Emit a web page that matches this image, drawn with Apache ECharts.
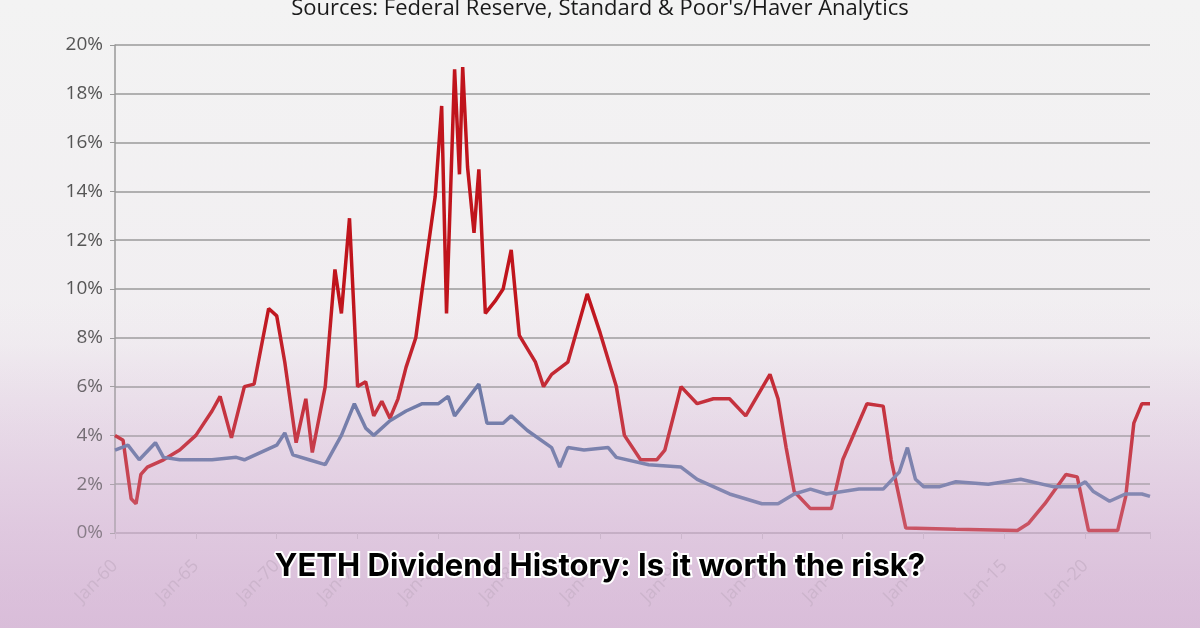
<!DOCTYPE html>
<html lang="en">
  <head>
    <meta charset="UTF-8" />
    <title>Fed Funds vs Dividend Yield</title>
    <script src="https://cdn.jsdelivr.net/npm/echarts@6.0.0/dist/echarts.min.js"></script>
    <style>body{margin:0}</style>
  </head>
  <body>
    <div id="main" style="width: 1200px; height: 628px"></div>
    <script type="text/javascript">
      // [year, percent]
      const fedFunds = [
        [1960, 4.0], [1960.5, 3.8], [1961, 1.4], [1961.3, 1.2], [1961.6, 2.4], [1962, 2.7],
        [1963, 3.0], [1964, 3.4], [1965, 4.0], [1966, 5.0], [1966.5, 5.6], [1967.2, 3.9],
        [1968, 6.0], [1968.6, 6.1], [1969.5, 9.2], [1970, 8.9], [1970.5, 7.0], [1971.2, 3.7],
        [1971.8, 5.5], [1972.2, 3.3], [1973, 6.0], [1973.6, 10.8], [1974, 9.0], [1974.5, 12.9],
        [1975, 6.0], [1975.5, 6.2], [1976, 4.8], [1976.5, 5.4], [1977, 4.7], [1977.5, 5.5],
        [1978, 6.8], [1978.6, 8.0], [1979, 10.0], [1979.8, 13.8], [1980.2, 17.5], [1980.5, 9.0],
        [1981, 19.0], [1981.3, 14.7], [1981.5, 19.1], [1981.8, 15.0], [1982.2, 12.3], [1982.5, 14.9],
        [1982.9, 9.0], [1983.5, 9.5], [1984, 10.0], [1984.5, 11.6], [1985, 8.1], [1986, 7.0],
        [1986.5, 6.0], [1987, 6.5], [1988, 7.0], [1989.2, 9.8], [1990, 8.2], [1991, 6.0],
        [1991.5, 4.0], [1992.5, 3.0], [1993.5, 3.0], [1994, 3.4], [1995, 6.0], [1996, 5.3],
        [1997, 5.5], [1998, 5.5], [1999, 4.8], [2000.5, 6.5], [2001, 5.5], [2001.5, 3.5],
        [2002, 1.7], [2003, 1.0], [2004.3, 1.0], [2005, 3.0], [2006.5, 5.3], [2007.5, 5.2],
        [2008, 3.0], [2008.9, 0.2], [2012, 0.15], [2015.8, 0.1], [2016.5, 0.4], [2017.5, 1.2],
        [2018.8, 2.4], [2019.5, 2.3], [2020.2, 0.1], [2022, 0.1], [2022.5, 1.5], [2023, 4.5],
        [2023.5, 5.3], [2024, 5.3]
      ];
      const divYield = [
        [1960, 3.4], [1960.8, 3.6], [1961.5, 3.0], [1962.5, 3.7], [1963, 3.1], [1964, 3.0],
        [1966, 3.0], [1967.5, 3.1], [1968, 3.0], [1970, 3.6], [1970.5, 4.1], [1971, 3.2],
        [1972, 3.0], [1973, 2.8], [1974, 4.0], [1974.8, 5.3], [1975.5, 4.3], [1976, 4.0],
        [1977, 4.6], [1978, 5.0], [1979, 5.3], [1980, 5.3], [1980.6, 5.6], [1981, 4.8],
        [1982.5, 6.1], [1983, 4.5], [1984, 4.5], [1984.5, 4.8], [1985.5, 4.2], [1987, 3.5],
        [1987.5, 2.7], [1988, 3.5], [1989, 3.4], [1990.5, 3.5], [1991, 3.1], [1993, 2.8],
        [1995, 2.7], [1996, 2.2], [1998, 1.6], [2000, 1.2], [2001, 1.2], [2002, 1.6],
        [2003, 1.8], [2004, 1.6], [2006, 1.8], [2007.5, 1.8], [2008.5, 2.5], [2009, 3.5],
        [2009.5, 2.2], [2010, 1.9], [2011, 1.9], [2012, 2.1], [2014, 2.0], [2016, 2.2],
        [2018, 1.9], [2019.5, 1.9], [2020, 2.1], [2020.5, 1.7], [2021.5, 1.3], [2022.5, 1.6],
        [2023.5, 1.6], [2024, 1.5]
      ];
      const yTicks = [0, 2, 4, 6, 8, 10, 12, 14, 16, 18, 20];

      let myChart = echarts.init(document.getElementById("main"));
      let options = {
        backgroundColor: {
          type: "linear", x: 0, y: 0, x2: 0, y2: 1,
          colorStops: [
            { offset: 0, color: "#f3f3f3" },
            { offset: 0.55, color: "#f1eef1" },
            { offset: 1, color: "#dcc2dc" },
          ],
        },
        title: {
          text: "Sources: Federal Reserve, Standard & Poor's/Haver Analytics",
          left: "center", top: -7,
          textStyle: { fontFamily: "Open Sans", fontSize: 22, fontWeight: "normal", color: "#1a1a1a" },
        },
        grid: { left: 115, right: 50, top: 45, bottom: 95 },
        xAxis: {
          type: "value", min: 1960, max: 2024, interval: 5,
          axisLine: { lineStyle: { color: "#b9a8b9", width: 2 } },
          axisTick: { show: true, length: 6, lineStyle: { color: "#c5b5c5" } },
          splitLine: { show: false },
          axisLabel: {
            rotate: 45, margin: 30, fontSize: 18, fontFamily: "Open Sans", color: "#c2b0c2",
            formatter: (v) => (v > 2021 ? "" : "Jan-" + String(v).slice(2)),
          },
        },
        yAxis: {
          type: "value", min: 0, max: 20, interval: 2,
          axisLine: { show: true, lineStyle: { color: "#999", width: 1.5 } },
          splitLine: { lineStyle: { color: "#9a9a9a", width: 1.5 } },
          axisLabel: {
            fontSize: 19, fontFamily: "Open Sans", color: "#555", margin: 12,
            formatter: (v) => (yTicks.includes(v) ? v + "%" : ""),
          },
        },
        series: [
          {
            name: "Fed Funds", type: "line", data: fedFunds, symbol: "none",
            lineStyle: { color: "#c0141c", width: 3.5 },
          },
          {
            name: "Dividend Yield", type: "line", data: divYield, symbol: "none",
            lineStyle: { color: "#5b6e9e", width: 3.5 },
          },
        ],
        graphic: [
          {
            type: "rect", z: 50, silent: true,
            shape: { x: 0, y: 300, width: 1200, height: 328 },
            style: {
              fill: {
                type: "linear", x: 0, y: 0, x2: 0, y2: 1,
                colorStops: [
                  { offset: 0, color: "rgba(220,190,220,0)" },
                  { offset: 1, color: "rgba(215,185,215,0.55)" },
                ],
              },
            },
          },
          {
            type: "text", z: 60, left: "center", top: 549,
            style: {
              text: "YETH Dividend History: Is it worth the risk?",
              font: "bold 31px Inter", fill: "#000", stroke: "#fff", lineWidth: 4,
            },
          },
        ],
      };
      myChart.setOption(options);
    </script>
  </body>
</html>
